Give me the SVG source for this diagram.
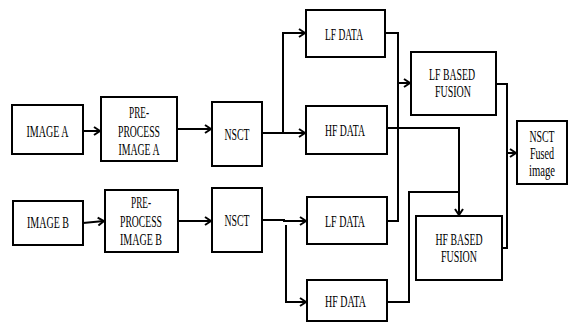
<svg xmlns="http://www.w3.org/2000/svg" width="568" height="323" viewBox="0 0 568 323">
<defs>
<style>
.box{fill:#fff;stroke:#000;stroke-width:2}
.ln{fill:none;stroke:#000;stroke-width:2}
.ar{fill:none;stroke:#000;stroke-width:2;marker-end:url(#arr)}
text{font-family:"Liberation Serif","Times New Roman",serif;font-size:16px;fill:#000;text-anchor:middle}
</style>
<marker id="arr" viewBox="0 0 8 10" refX="7" refY="5" markerWidth="8" markerHeight="10" markerUnits="userSpaceOnUse" orient="auto">
<path d="M1,1 L7,5 L1,9" fill="none" stroke="#000" stroke-width="2"/>
</marker>
</defs>
<rect width="568" height="323" fill="#fff"/>
<g id="connectors">
<path class="ar" d="M83,131 H100"/>
<path class="ar" d="M177,129 H211"/>
<path class="ln" d="M262,133 H283"/>
<path class="ar" d="M283,133 V33 H305"/>
<path class="ar" d="M283,133 H305"/>
<path class="ln" d="M385,33 H398 V221 H387"/>
<path class="ar" d="M398,83 H410"/>
<path class="ar" d="M387,128 H459 V215"/>
<path class="ln" d="M387,302 H409 V192 H459"/>
<path class="ln" d="M496,84 H507 V248 H502"/>
<path class="ar" d="M507,153 H516"/>
<path class="ar" d="M83,223 L104,221"/>
<path class="ar" d="M178,221 H211"/>
<path class="ar" d="M262,220 H284 V221 H306"/>
<path class="ar" d="M286,225 V302 H306"/>
</g>
<g id="imageA"><rect class="box" x="12" y="105" width="71" height="49"/><text x="47.5" y="137" textLength="42" lengthAdjust="spacingAndGlyphs">IMAGE A</text></g>
<g id="preA"><rect class="box" x="101" y="97" width="76" height="64"/>
<text x="139" y="118" textLength="20" lengthAdjust="spacingAndGlyphs">PRE-</text>
<text x="139" y="137" textLength="42" lengthAdjust="spacingAndGlyphs">PROCESS</text>
<text x="139" y="155" textLength="41" lengthAdjust="spacingAndGlyphs">IMAGE A</text></g>
<g id="nsctA"><rect class="box" x="212" y="102" width="50" height="64"/><text x="237" y="140" textLength="25" lengthAdjust="spacingAndGlyphs">NSCT</text></g>
<g id="imageB"><rect class="box" x="13" y="201" width="70" height="44"/><text x="48" y="228" textLength="42" lengthAdjust="spacingAndGlyphs">IMAGE B</text></g>
<g id="preB"><rect class="box" x="105" y="190" width="73" height="62"/>
<text x="141" y="208" textLength="20" lengthAdjust="spacingAndGlyphs">PRE-</text>
<text x="141" y="227" textLength="42" lengthAdjust="spacingAndGlyphs">PROCESS</text>
<text x="141" y="245" textLength="42" lengthAdjust="spacingAndGlyphs">IMAGE B</text></g>
<g id="nsctB"><rect class="box" x="212" y="188" width="50" height="64"/><text x="237" y="226" textLength="25" lengthAdjust="spacingAndGlyphs">NSCT</text></g>
<g id="lfA"><rect class="box" x="306" y="10" width="79" height="47"/><text x="344" y="40" textLength="38" lengthAdjust="spacingAndGlyphs">LF DATA</text></g>
<g id="hfA"><rect class="box" x="306" y="106" width="81" height="48"/><text x="345" y="136" textLength="40" lengthAdjust="spacingAndGlyphs">HF DATA</text></g>
<g id="lfB"><rect class="box" x="307" y="197" width="80" height="47"/><text x="345" y="227" textLength="40" lengthAdjust="spacingAndGlyphs">LF DATA</text></g>
<g id="hfB"><rect class="box" x="307" y="280" width="80" height="41"/><text x="345.5" y="307" textLength="41" lengthAdjust="spacingAndGlyphs">HF DATA</text></g>
<g id="lfFusion"><rect class="box" x="411" y="52" width="85" height="63"/>
<text x="452" y="80" textLength="46" lengthAdjust="spacingAndGlyphs">LF BASED</text>
<text x="453" y="97" textLength="36" lengthAdjust="spacingAndGlyphs">FUSION</text></g>
<g id="hfFusion"><rect class="box" x="416" y="216" width="86" height="64"/>
<text x="459" y="245" textLength="47" lengthAdjust="spacingAndGlyphs">HF BASED</text>
<text x="459" y="262" textLength="36" lengthAdjust="spacingAndGlyphs">FUSION</text></g>
<g id="fused"><rect class="box" x="517" y="121" width="50" height="63"/>
<text x="542" y="142" textLength="25" lengthAdjust="spacingAndGlyphs">NSCT</text>
<text x="542" y="159" textLength="24" lengthAdjust="spacingAndGlyphs">Fused</text>
<text x="542" y="176" textLength="26" lengthAdjust="spacingAndGlyphs">image</text></g>
</svg>
